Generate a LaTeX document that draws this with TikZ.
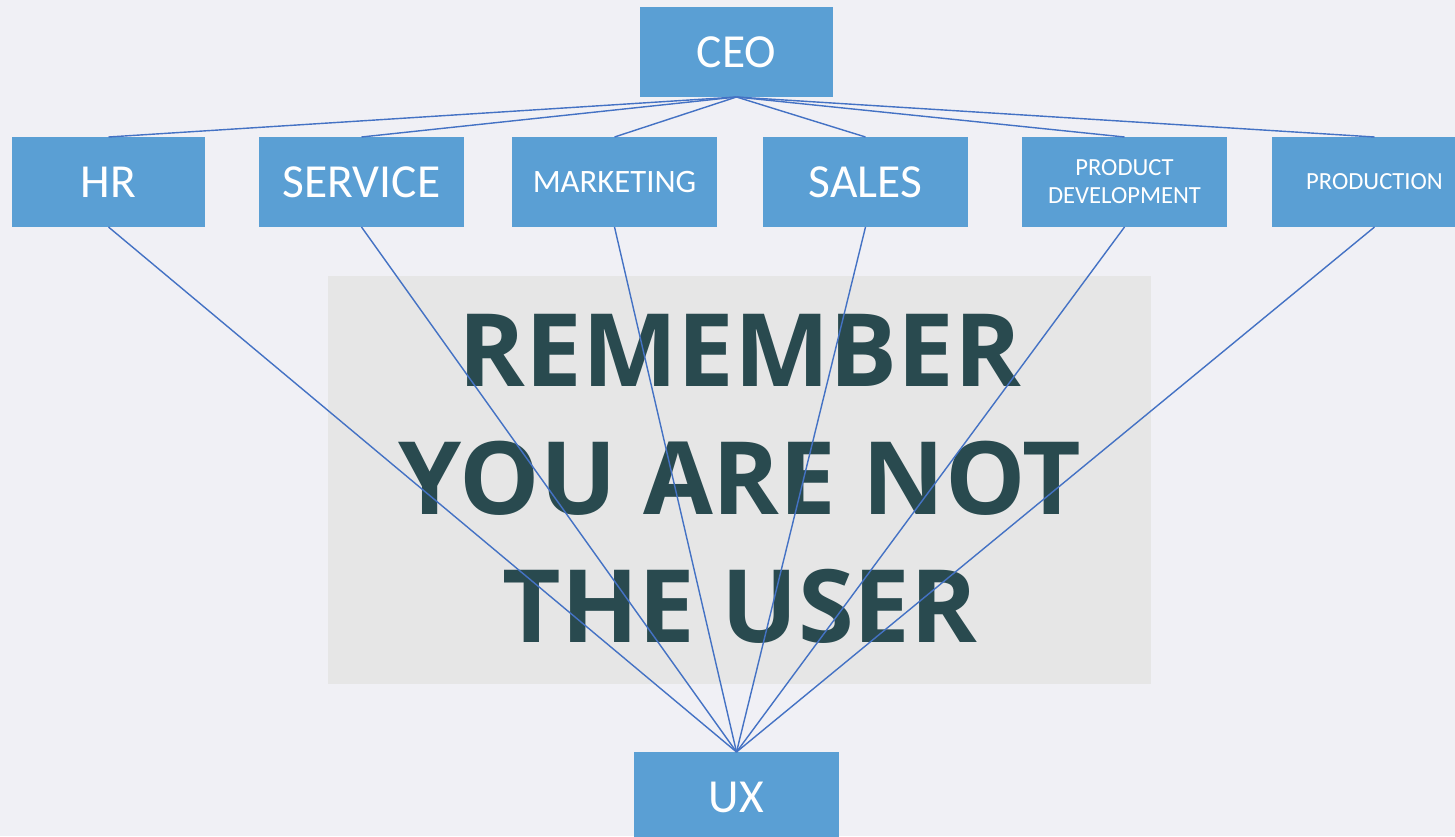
\documentclass[tikz,border=0pt]{standalone}
\usepackage{fontspec}
\setmainfont{Carlito}
\newfontfamily\slogan{Open Sans}
\usepackage{tikz}
\usetikzlibrary{positioning}

\definecolor{paper}{RGB}{240,240,245}
\definecolor{panel}{RGB}{230,230,230}
\definecolor{boxblue}{RGB}{90,159,212}
\definecolor{linkblue}{RGB}{68,114,196}
\definecolor{darkteal}{RGB}{41,74,79}

\begin{document}
\begin{tikzpicture}[auto,
  sq node/.style={rectangle,fill=boxblue,text=white,inner sep=0pt,outer sep=0pt,
    minimum width=2.05cm,minimum height=0.9cm,font=\fontsize{13.5}{16}\selectfont},
  small node/.style={sq node,align=center,font=\fontsize{7}{8}\selectfont},
  link/.style={draw=linkblue,line width=0.4pt}]
  \clip (0,0) rectangle (14.55,8.36);
  \fill[paper] (0,0) rectangle (14.55,8.36);
  \fill[panel] (3.28,1.52) rectangle (11.51,5.60);
  \node[inner sep=0pt,align=center,text=darkteal,
    font=\slogan\bfseries\fontsize{28.8}{36.4}\selectfont] (8) at (7.40,3.575)
    {REMEMBER\\YOU ARE NOT\\THE USER};
  \node[sq node, minimum width=1.93cm] (0) at (7.365,7.84) {CEO};
  \node[sq node, minimum width=1.93cm] (1) at (1.085,6.54) {HR};
  \node[sq node, right=0.54cm of 1] (2) {SERVICE};
  \node[sq node, right=0.48cm of 2, font=\fontsize{9.3}{11}\selectfont] (3) {MARKETING};
  \node[sq node, right=0.46cm of 3] (4) {SALES};
  \node[small node, right=0.54cm of 4] (5) {PRODUCT\\DEVELOPMENT};
  \node[small node, right=0.45cm of 5] (6) {PRODUCTION};
  \node[sq node] (7) at (7.365,0.39) {UX};
  \path[every edge/.append style=link]
    (0.south) edge (1.north)
    (0.south) edge (2.north)
    (0.south) edge (3.north)
    (0.south) edge (4.north)
    (0.south) edge (5.north)
    (0.south) edge (6.north)
    (1.south) edge (7.north)
    (2.south) edge (7.north)
    (3.south) edge (7.north)
    (4.south) edge (7.north)
    (5.south) edge (7.north)
    (6.south) edge (7.north);
\end{tikzpicture}
\end{document}
